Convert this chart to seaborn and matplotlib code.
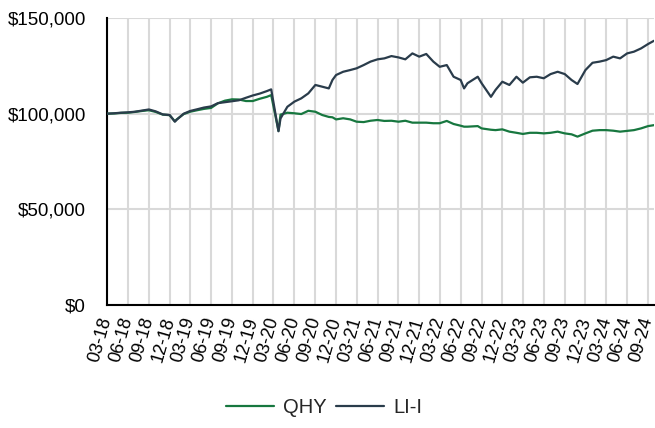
import matplotlib
matplotlib.use("Agg")
import matplotlib.pyplot as plt
import matplotlib.dates as mdates
import matplotlib.ticker as mticker
import seaborn as sns
import pandas as pd

dates = [
    "2018-03-01", "2018-04-01", "2018-05-01", "2018-06-01", "2018-07-01", "2018-08-01",
    "2018-09-01", "2018-10-01", "2018-11-01", "2018-12-01", "2018-12-24", "2019-01-01",
    "2019-02-01", "2019-03-01", "2019-04-01", "2019-05-01", "2019-06-01", "2019-07-01",
    "2019-08-01", "2019-09-01", "2019-10-01", "2019-11-01", "2019-12-01", "2020-01-01",
    "2020-02-01", "2020-02-20", "2020-03-23", "2020-04-01", "2020-05-01", "2020-06-01",
    "2020-07-01", "2020-08-01", "2020-09-01", "2020-10-01", "2020-10-30", "2020-11-15",
    "2020-12-01", "2021-01-01", "2021-02-01", "2021-03-01", "2021-04-01", "2021-05-01",
    "2021-06-01", "2021-07-01", "2021-08-01", "2021-09-01", "2021-10-01", "2021-11-01",
    "2021-12-01", "2022-01-01", "2022-02-01", "2022-03-01", "2022-04-01", "2022-05-01",
    "2022-06-01", "2022-06-16", "2022-07-01", "2022-08-15", "2022-09-01", "2022-10-12",
    "2022-11-01", "2022-12-01", "2023-01-01", "2023-02-01", "2023-03-01", "2023-04-01",
    "2023-05-01", "2023-06-01", "2023-07-01", "2023-08-01", "2023-09-01", "2023-10-01",
    "2023-10-27", "2023-12-01", "2024-01-01", "2024-02-01", "2024-03-01", "2024-04-01",
    "2024-05-01", "2024-06-01", "2024-07-01", "2024-08-01", "2024-09-01", "2024-09-27",
]

li_i = [
    100.0, 100.2, 100.5, 100.7, 101.0, 101.6,
    102.2, 101.2, 99.6, 99.3, 95.8, 96.8,
    100.0, 101.4, 102.3, 103.2, 103.8, 105.5,
    106.0, 106.5, 107.0, 108.3, 109.5, 110.5,
    111.8, 112.7, 90.8, 97.5, 103.6, 106.3,
    108.0, 110.6, 115.0, 114.1, 113.2, 117.6,
    120.2, 121.9, 122.8, 123.7, 125.4, 127.2,
    128.4, 128.9, 130.1, 129.4, 128.4, 131.5,
    129.8, 131.2, 127.2, 124.5, 125.4, 119.3,
    117.6, 113.2, 115.9, 119.3, 115.9, 108.8,
    112.4, 116.7, 115.0, 119.3, 116.2, 119.0,
    119.3, 118.5, 120.7, 121.9, 120.7, 117.6,
    115.5, 122.8, 126.6, 127.2, 128.0, 129.8,
    128.9, 131.5, 132.4, 134.1, 136.4, 138.1,
]

qhy = [
    100.0, 100.1, 100.4, 100.5, 100.9, 101.4,
    101.8, 100.9, 99.5, 99.2, 96.0, 97.0,
    99.8, 101.0, 101.8, 102.5, 103.0, 105.4,
    106.8, 107.5, 107.4, 106.6, 106.6, 107.8,
    108.8, 109.7, 91.0, 99.5, 100.5, 100.2,
    99.8, 101.5, 101.0, 99.3, 98.3, 98.1,
    97.0, 97.6, 97.0, 95.8, 95.6, 96.3,
    96.7, 96.2, 96.3, 95.8, 96.3, 95.3,
    95.3, 95.3, 95.0, 95.0, 96.2, 94.6,
    93.7, 93.2, 93.2, 93.5, 92.3, 91.6,
    91.4, 91.8, 90.6, 90.0, 89.4, 90.0,
    90.0, 89.7, 90.0, 90.6, 89.7, 89.2,
    88.0, 89.7, 91.1, 91.4, 91.4, 91.1,
    90.6, 91.0, 91.4, 92.3, 93.5, 94.0,
]

series_names = ["QHY", "LI-I"]
series_colors = ["#17773f", "#2a3c4b"]
y_ticks = [0, 50000, 100000, 150000]

df = pd.DataFrame({
    "date": pd.to_datetime(dates * 2),
    "value": [v * 1000 for v in qhy] + [v * 1000 for v in li_i],
    "series": [series_names[0]] * len(dates) + [series_names[1]] * len(dates),
})

sns.set_style("white")
plt.rcParams["font.family"] = ["Liberation Sans", "DejaVu Sans"]

fig = plt.figure(figsize=(6.55, 4.28), dpi=100)
ax = fig.add_axes([107 / 655, 1 - 305 / 428, (654 - 107) / 655, (305 - 18) / 428])

sns.lineplot(data=df, x="date", y="value", hue="series", hue_order=series_names,
             palette=series_colors, linewidth=1.6, ax=ax, legend=True, zorder=3)

start = pd.Timestamp(dates[0])
end = pd.Timestamp(dates[-1])
ax.set_xlim(start, end)
ax.set_ylim(0, 150000)
ax.set_yticks(y_ticks)
ax.yaxis.set_major_formatter(mticker.FuncFormatter(lambda v, p: f"${v:,.0f}"))

ax.xaxis.set_major_locator(mdates.MonthLocator(bymonth=[3, 6, 9, 12], bymonthday=1))
ax.xaxis.set_major_formatter(mdates.DateFormatter("%m-%y"))

ax.grid(True, axis="both", color="#d9d9d9", linewidth=1.5, zorder=0)
ax.set_axisbelow(True)

for s in ["top", "right"]:
    ax.spines[s].set_visible(False)
for s in ["left", "bottom"]:
    ax.spines[s].set_color("black")
    ax.spines[s].set_linewidth(1.5)

ax.tick_params(axis="y", direction="inout", length=14, width=1.5, labelsize=13.5,
               colors="black", pad=8)
ax.tick_params(axis="x", direction="inout", length=12, width=1.5, labelsize=13,
               colors="black", pad=3)
for lbl in ax.get_xticklabels():
    lbl.set_rotation(74)
    lbl.set_ha("right")
    lbl.set_va("center")
    lbl.set_rotation_mode("anchor")

ax.set_xlabel("")
ax.set_ylabel("")

handles, labels = ax.get_legend_handles_labels()
ax.legend_.remove()
fig.legend(handles, labels, loc="center", bbox_to_anchor=(0.495, 0.047), ncol=2,
           frameon=False, fontsize=14.5, handlelength=2.4, handletextpad=0.45,
           columnspacing=0.45)

fig.savefig("out.png", dpi=100)
